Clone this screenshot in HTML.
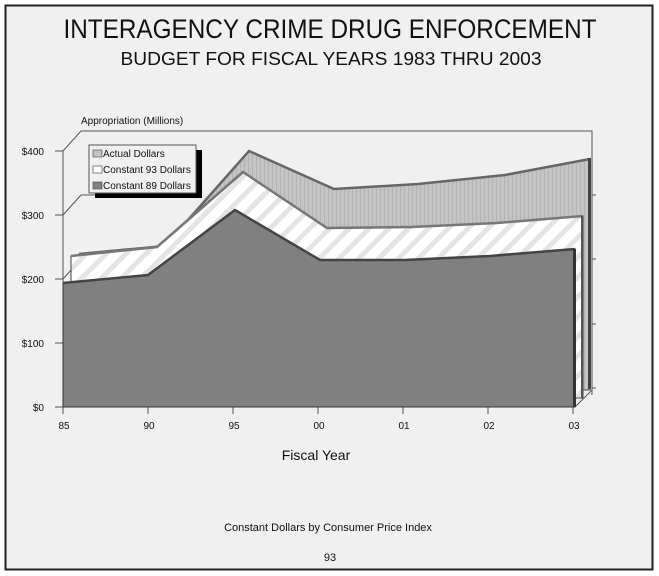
<!DOCTYPE html>
<html><head><style>
html,body{margin:0;padding:0;background:#fff;}
svg{display:block;font-family:"Liberation Sans",Arial,sans-serif;}
</style></head><body>
<svg width="659" height="576" viewBox="0 0 659 576" xmlns="http://www.w3.org/2000/svg">
<defs>
<pattern id="hatch" width="14" height="14" patternUnits="userSpaceOnUse" patternTransform="rotate(45)">
<rect width="14" height="14" fill="#ffffff"/><rect width="5" height="14" fill="#e4e4e4"/>
</pattern>
<pattern id="vstripe" width="4" height="10" patternUnits="userSpaceOnUse">
<rect width="4" height="10" fill="#c4c4c4"/><rect width="1" height="10" fill="#b4b4b4"/>
</pattern>
</defs>
<rect x="0" y="0" width="659" height="576" fill="#fff"/>
<rect x="5.5" y="5.5" width="647" height="564" fill="#f0f0f0" stroke="#222" stroke-width="2"/>
<text x="330" y="38" font-size="27" text-anchor="middle" textLength="533" lengthAdjust="spacingAndGlyphs" fill="#111">INTERAGENCY CRIME DRUG ENFORCEMENT</text>
<text x="331" y="65" font-size="18" text-anchor="middle" textLength="421" lengthAdjust="spacingAndGlyphs" fill="#111">BUDGET FOR FISCAL YEARS 1983 THRU 2003</text>

<g stroke="#555" stroke-width="1" fill="none">
<polyline points="63,151 81,131 592,131 592,395"/>
<line x1="63" y1="215" x2="81" y2="195"/><line x1="81" y1="195" x2="200" y2="195"/>
<line x1="63" y1="279" x2="81" y2="259"/>
<line x1="63" y1="151" x2="63" y2="407"/>
<line x1="55" y1="151" x2="63" y2="151"/><line x1="55" y1="215" x2="63" y2="215"/>
<line x1="55" y1="279" x2="63" y2="279"/><line x1="55" y1="343" x2="63" y2="343"/>
<line x1="55" y1="407" x2="575" y2="407"/>
<line x1="575" y1="407" x2="592" y2="390"/>
<line x1="592" y1="195" x2="596" y2="195"/><line x1="592" y1="259" x2="596" y2="259"/><line x1="592" y1="324" x2="596" y2="324"/><line x1="592" y1="388" x2="596" y2="388"/>
<line x1="63" y1="407" x2="63" y2="414"/><line x1="148" y1="407" x2="148" y2="414"/><line x1="233" y1="407" x2="233" y2="414"/><line x1="318" y1="407" x2="318" y2="414"/><line x1="403" y1="407" x2="403" y2="414"/><line x1="488" y1="407" x2="488" y2="414"/><line x1="573" y1="407" x2="573" y2="414"/>
</g>
<g font-size="10" fill="#111">
<text x="81" y="124">Appropriation (Millions)</text>
<text x="44" y="155" text-anchor="end">$400</text>
<text x="44" y="219" text-anchor="end">$300</text>
<text x="44" y="283" text-anchor="end">$200</text>
<text x="44" y="347" text-anchor="end">$100</text>
<text x="44" y="411" text-anchor="end">$0</text>
<g text-anchor="middle">
<text x="64" y="429">85</text><text x="149" y="429">90</text><text x="234" y="429">95</text><text x="319" y="429">00</text><text x="404" y="429">01</text><text x="489" y="429">02</text><text x="574" y="429">03</text>
</g>
</g>

<polygon points="79,254 165,246 249,151 334,189 418,184 505,175 590,159 590,390 79,390" fill="url(#vstripe)" stroke="#444" stroke-width="1"/>
<polyline points="79,254 165,246 249,151 334,189 418,184 505,175 590,159" fill="none" stroke="#666" stroke-width="2.5"/>
<rect x="588" y="158" width="3" height="231" fill="#444"/>
<polygon points="71,256 157,247 243,172 327,228 412,227 497,223 583,216 583,398 71,398" fill="url(#hatch)" stroke="#444" stroke-width="1"/>
<polyline points="71,256 157,247 243,172 327,228 412,227 497,223 583,216" fill="none" stroke="#777" stroke-width="2.5"/>
<rect x="581" y="216" width="2" height="182" fill="#555"/>
<polygon points="63,283 148,275 235,210 320,260 405,260 490,256 575,249 575,407 63,407" fill="#808080" stroke="#333" stroke-width="1"/>
<polyline points="63,283 148,275 235,210 320,260 405,260 490,256 575,249" fill="none" stroke="#444" stroke-width="2.5"/>
<rect x="573" y="249" width="3" height="158" fill="#333"/>

<rect x="95" y="150" width="107" height="48" fill="#000"/>
<rect x="89" y="145" width="107" height="48" fill="#f0f0f0" stroke="#555"/>
<g font-size="10" fill="#111">
<rect x="93" y="150" width="9" height="7" fill="#c4c4c4" stroke="#555" stroke-width="0.7"/><text x="103" y="157">Actual Dollars</text>
<rect x="93" y="166" width="9" height="7" fill="#fff" stroke="#555" stroke-width="0.7"/><text x="103" y="173">Constant 93 Dollars</text>
<rect x="93" y="182" width="9" height="7" fill="#808080" stroke="#555" stroke-width="0.7"/><text x="103" y="189">Constant 89 Dollars</text>
</g>

<text x="316" y="460" font-size="14" text-anchor="middle" fill="#111">Fiscal Year</text>
<text x="328" y="531" font-size="11" text-anchor="middle" fill="#111">Constant Dollars by Consumer Price Index</text>
<text x="330" y="561" font-size="11" text-anchor="middle" fill="#111">93</text>
</svg>
</body></html>
